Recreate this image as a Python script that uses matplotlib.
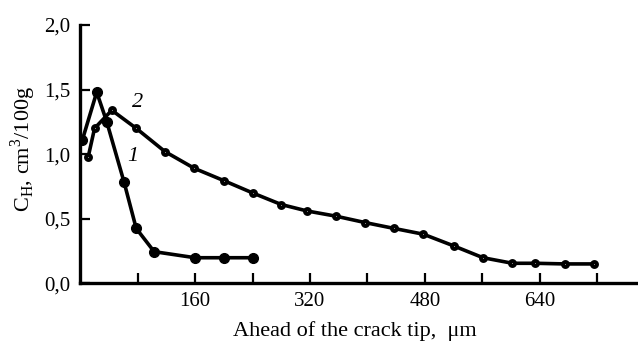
import matplotlib
matplotlib.use("Agg")
import matplotlib.pyplot as plt

# Curve 1 (solid markers)
x1 = [3, 23, 37, 61, 78, 103, 160, 200, 240]
y1 = [1.11, 1.48, 1.25, 0.785, 0.425, 0.245, 0.198, 0.198, 0.198]

# Curve 2 (ringed markers)
x2 = [11, 20, 44, 78, 118, 159, 200, 240, 280, 316, 356, 397, 437, 478, 520, 561, 602, 634, 675, 716]
y2 = [0.975, 1.20, 1.34, 1.20, 1.02, 0.89, 0.795, 0.70, 0.61, 0.56, 0.52, 0.47, 0.425, 0.38, 0.29, 0.198, 0.155, 0.155, 0.15, 0.15]

xticks = [80, 160, 240, 320, 400, 480, 560, 640, 720]
xlabels = ["", "160", "", "320", "", "480", "", "640", ""]
yticks = [0.0, 0.5, 1.0, 1.5, 2.0]
ylabels = ["0,0", "0,5", "1,0", "1,5", "2,0"]

plt.rcParams['font.family'] = ['Liberation Serif', 'DejaVu Serif']

fig = plt.figure(figsize=(6.38, 3.45), dpi=100)
ax = fig.add_axes([80.2/638, 1-283.3/345, (636-80.2)/638, (283.3-25)/345])

ax.plot(x1, y1, color='black', lw=2.6, marker='o', ms=7, mfc='black', mec='black', solid_joinstyle='round')
ax.plot(x2, y2, color='black', lw=2.6, marker='o', ms=3.6, mfc='#a0a0a0', mec='black', mew=2.8, solid_joinstyle='round')

ax.text(80, 1.40, "2", fontsize=16, style='italic', ha='center', va='center')
ax.text(73, 0.98, "1", fontsize=16, style='italic', ha='center', va='center')

ax.set_xlim(0, 774)
ax.set_ylim(0, 2.0)
ax.set_xticks(xticks)
ax.set_xticklabels(xlabels)
ax.set_yticks(yticks)
ax.set_yticklabels(ylabels)
ax.tick_params(direction='in', length=7, width=1.6, labelsize=15)
ax.tick_params(axis='y', pad=7)
ax.tick_params(axis='x', pad=6)
for s in ['top', 'right']:
    ax.spines[s].set_visible(False)
for s in ['left', 'bottom']:
    ax.spines[s].set_linewidth(2.4)

ax.set_xlabel("Ahead of the crack tip,  \u03bcm", fontsize=16)
ax.set_ylabel("C$_{\\mathregular{H}}$, cm$^{\\mathregular{3}}$/100g", fontsize=16)

ax.xaxis.set_label_coords((355-80.2)/(636-80.2), -(337-283.3+4)/(283.3-25))
ax.xaxis.label.set_va('bottom')
ax.yaxis.set_label_coords(-(80.2-23)/(636-80.2), (283.3-149)/(283.3-25))
ax.yaxis.label.set_va('center')

fig.savefig("out.png", dpi=100)
